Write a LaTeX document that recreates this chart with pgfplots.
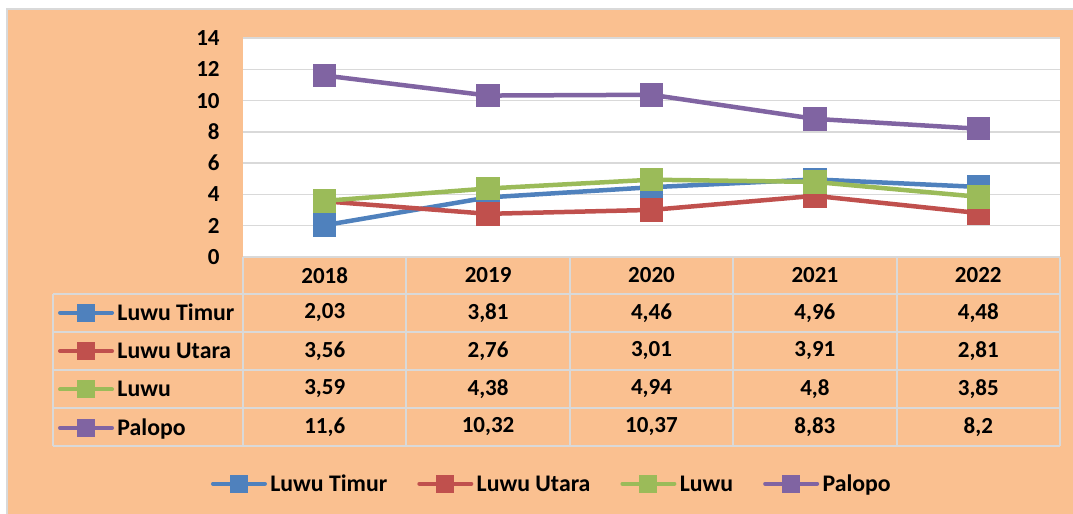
\documentclass[border=0pt]{standalone}
\usepackage{pgfplots}
\pgfplotsset{compat=1.18}
\usepackage{pgfplotstable}
\usepackage{fontspec}
\setmainfont{Carlito}
\definecolor{peach}{HTML}{FAC090}
\definecolor{gridgrey}{HTML}{D9D9D9}
\definecolor{cBlue}{HTML}{4F81BD}
\definecolor{cRed}{HTML}{C0504D}
\definecolor{cGreen}{HTML}{9BBB59}
\definecolor{cPurple}{HTML}{8064A2}

\pgfplotstableread{
x timur utara luwu palopo
0 2.03 3.56 3.59 11.6
1 3.81 2.76 4.38 10.32
2 4.46 3.01 4.94 10.37
3 4.96 3.91 4.8 8.83
4 4.48 2.81 3.85 8.2
}\data

\newcommand\tf{\bfseries\fontsize{11.5}{13}\selectfont}
\newcommand\lf{\bfseries\fontsize{11.9}{13}\selectfont}

\pgfplotsset{
  mylegimg/.style={
    legend image code/.code={%
      \path[use as bounding box, draw=none, fill=none] (0pt,0pt) rectangle (28pt,7pt);
      \draw[##1, line width=2pt, mark size=3.5pt, line cap=round, mark repeat=2, mark phase=2] plot coordinates {(1pt,0.75pt)(14pt,0.75pt)(27pt,0.75pt)};}
  },
  mylegstyle/.style={
    legend style={draw=none, fill=none, inner sep=0pt, outer sep=0pt,
      nodes={inner sep=0pt, text height=8pt, text depth=2pt, font=\lf},
      /tikz/every odd column/.append style={column sep=1.7pt}},
    legend cell align=left,
  }
}

\begin{document}
\begin{tikzpicture}[every mark/.append style={line width=0.5pt}]
\begin{scope}[x=0.5pt,y=0.5pt]
\useasboundingbox (0,0) rectangle (1073,514);
\fill[white] (0,0) rectangle (1073,514);
\fill[peach] (7,0) rectangle (1073,505);
\draw[gridgrey, line width=1pt] (7,0) -- (7,505) -- (1073,505);
\end{scope}

\begin{axis}[
  at={(121.5pt,128.5pt)}, anchor=south west,
  width=408.5pt, height=109.5pt, scale only axis,
  xmin=-0.5, xmax=4.5, ymin=0, ymax=14,
  axis background/.style={fill=white},
  axis line style={draw=none},
  major tick length=0pt, tick style={draw=none},
  xtick=\empty,
  ytick={0,2,...,14},
  ymajorgrids, grid style={gridgrey, line width=0.75pt},
  yticklabel style={font=\tf, inner sep=0pt, xshift=-11.5pt},
  /pgf/number format/assume math mode=true,
  every axis plot/.append style={line width=2.25pt, mark=square*, mark size=4.75pt},
  clip=false,
  mylegimg, mylegstyle,
  legend style={at={(axis description cs:-0.2264,-0.1972)}, anchor=north west, row sep=7.2pt},
]
\addplot[cBlue, mark options={fill=cBlue}] table[x=x,y=timur]{\data};
\addlegendentry{Luwu Timur}
\addplot[cRed, mark options={fill=cRed}] table[x=x,y=utara]{\data};
\addlegendentry{Luwu Utara}
\addplot[cGreen, mark options={fill=cGreen}] table[x=x,y=luwu]{\data};
\addlegendentry{Luwu}
\addplot[cPurple, mark options={fill=cPurple}] table[x=x,y=palopo]{\data};
\addlegendentry{Palopo}
\end{axis}

\begin{axis}[
  at={(121.5pt,128.5pt)}, anchor=south west,
  width=408.5pt, height=109.5pt, scale only axis,
  hide axis, xmin=0, xmax=1, ymin=0, ymax=1,
  mylegimg, mylegstyle,
  legend columns=4,
  legend style={at={(axis description cs:-0.0392,-1.033)}, anchor=west,
    /tikz/every even column/.append style={column sep=15pt}},
]
\addlegendimage{cBlue, mark=square*, mark options={fill=cBlue}}
\addlegendentry{Luwu Timur}
\addlegendimage{cRed, mark=square*, mark options={fill=cRed}}
\addlegendentry{Luwu Utara}
\addlegendimage{cGreen, mark=square*, mark options={fill=cGreen}}
\addlegendentry{Luwu}
\addlegendimage{cPurple, mark=square*, mark options={fill=cPurple}}
\addlegendentry{Palopo}
\end{axis}

\begin{scope}[x=0.5pt,y=0.5pt]
% data table
\begin{scope}[gridgrey, line width=1pt]
\draw (243,257) -- (1060,257);
\foreach \y in {220,182,144,106,68} \draw (53,\y) -- (1060,\y);
\draw (53,220) -- (53,68);
\foreach \x in {243,406.4,569.8,733.2,896.6,1060} \draw (\x,257) -- (\x,68);
\end{scope}

\foreach \t [count=\i from 0] in {2018,2019,2020,2021,2022}
  \node[font=\tf, anchor=center] at (324.7+163.4*\i,238.5) {\t};
\foreach \t [count=\i from 0] in {2{,}03,3{,}81,4{,}46,4{,}96,4{,}48}
  \node[font=\tf, anchor=center] at (324.7+163.4*\i,201) {\t};
\foreach \t [count=\i from 0] in {3{,}56,2{,}76,3{,}01,3{,}91,2{,}81}
  \node[font=\tf, anchor=center] at (324.7+163.4*\i,163) {\t};
\foreach \t [count=\i from 0] in {3{,}59,4{,}38,4{,}94,4{,}8,3{,}85}
  \node[font=\tf, anchor=center] at (324.7+163.4*\i,125) {\t};
\foreach \t [count=\i from 0] in {11{,}6,10{,}32,10{,}37,8{,}83,8{,}2}
  \node[font=\tf, anchor=center] at (324.7+163.4*\i,87) {\t};
\end{scope}
\end{tikzpicture}
\end{document}
